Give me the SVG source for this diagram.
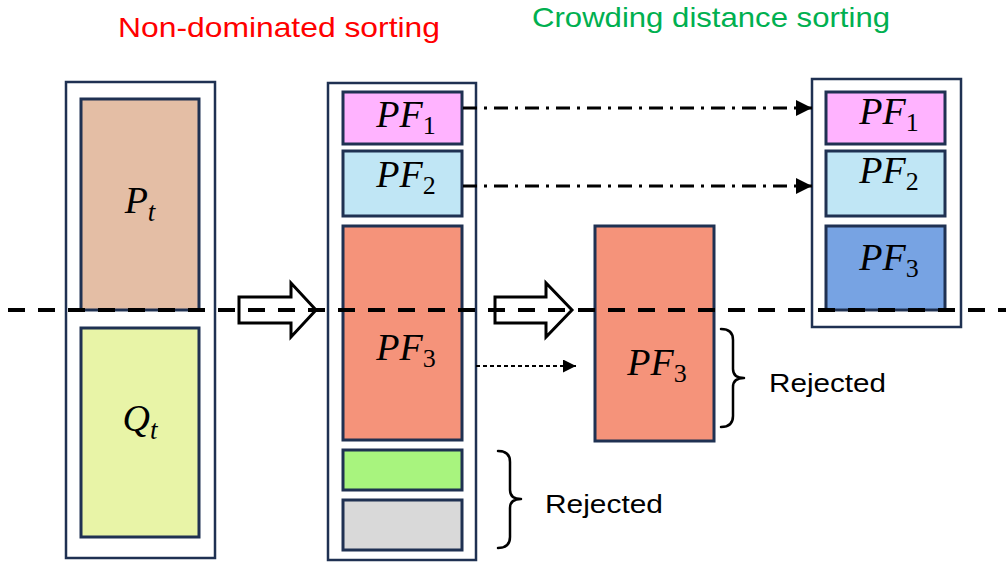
<svg xmlns="http://www.w3.org/2000/svg" width="1006" height="564" viewBox="0 0 1006 564">
  <style>
    .outer { fill: #ffffff; stroke: #1f3152; stroke-width: 2.5; }
    .inner { stroke: #1f3152; stroke-width: 3; }
    .math { font-family: "Liberation Serif", "DejaVu Serif", serif; font-style: italic; font-size: 38px; fill: #000; }
    .sub { font-style: normal; font-size: 26px; }
    .subi { font-size: 27px; }
    .label { font-family: "Liberation Sans", Arial, sans-serif; font-size: 26px; fill: #000; }
    .title { font-family: "Liberation Sans", Arial, sans-serif; font-size: 28px; }
    .brace { fill: none; stroke: #000; stroke-width: 2.5; stroke-linejoin: round; stroke-linecap: round; }
    .hollow { fill: none; stroke: #000; stroke-width: 3; stroke-linejoin: miter; }
  </style>
  <defs>
    <marker id="tri" viewBox="0 0 10 10" refX="10" refY="5" markerWidth="17" markerHeight="16" markerUnits="userSpaceOnUse" orient="auto">
      <path d="M0,0 L10,5 L0,10 Z" fill="#000"/>
    </marker>
    <marker id="triSmall" viewBox="0 0 10 10" refX="10" refY="5" markerWidth="15" markerHeight="13" markerUnits="userSpaceOnUse" orient="auto">
      <path d="M0,0 L10,5 L0,10 Z" fill="#000"/>
    </marker>
  </defs>

  <!-- titles -->
  <text class="title" x="118" y="37" fill="#ff0000" textLength="322" lengthAdjust="spacingAndGlyphs">Non-dominated sorting</text>
  <text class="title" x="532" y="27" fill="#00b050" textLength="358" lengthAdjust="spacingAndGlyphs">Crowding distance sorting</text>

  <!-- combined population R_t = P_t + Q_t -->
  <g id="population">
    <rect class="outer" x="66" y="82" width="149" height="476"/>
    <g id="Pt">
      <rect class="inner" x="81" y="99" width="118" height="211" fill="#e4bea5"/>
      <text class="math" x="140" y="213" text-anchor="middle">P<tspan class="subi" dy="8">t</tspan></text>
    </g>
    <g id="Qt">
      <rect class="inner" x="81" y="328" width="118" height="209" fill="#e8f4a7"/>
      <text class="math" x="140" y="431" text-anchor="middle">Q<tspan class="subi" dy="8">t</tspan></text>
    </g>
  </g>

  <!-- fronts after non-dominated sorting -->
  <g id="fronts">
    <rect class="outer" x="328" y="83" width="148" height="477"/>
    <g id="front1">
      <rect class="inner" x="343" y="92" width="119" height="52" fill="#ffb3ff"/>
      <text class="math" x="406" y="127" text-anchor="middle">PF<tspan class="sub" dy="7">1</tspan></text>
    </g>
    <g id="front2">
      <rect class="inner" x="343" y="151" width="119" height="65" fill="#c0e6f5"/>
      <text class="math" x="406" y="187" text-anchor="middle">PF<tspan class="sub" dy="7">2</tspan></text>
    </g>
    <g id="front3">
      <rect class="inner" x="343" y="226" width="119" height="214" fill="#f5937a"/>
      <text class="math" x="406" y="360" text-anchor="middle">PF<tspan class="sub" dy="7">3</tspan></text>
    </g>
    <g id="front4">
      <rect class="inner" x="343" y="450" width="119" height="40" fill="#a8f47e"/>
    </g>
    <g id="front5">
      <rect class="inner" x="343" y="500" width="119" height="50" fill="#d9d9d9"/>
    </g>
  </g>

  <!-- last front being truncated by crowding distance -->
  <g id="front3-split">
    <rect class="inner" x="595" y="226" width="119" height="215" fill="#f5937a"/>
    <text class="math" x="657" y="375" text-anchor="middle">PF<tspan class="sub" dy="7">3</tspan></text>
  </g>

  <!-- next population P_{t+1} -->
  <g id="next-population">
    <rect class="outer" x="812" y="79" width="149" height="248"/>
    <g id="next-front1">
      <rect class="inner" x="826" y="92" width="119" height="52" fill="#ffb3ff"/>
      <text class="math" x="889" y="124" text-anchor="middle">PF<tspan class="sub" dy="7">1</tspan></text>
    </g>
    <g id="next-front2">
      <rect class="inner" x="826" y="151" width="119" height="65" fill="#c0e6f5"/>
      <text class="math" x="889" y="183" text-anchor="middle">PF<tspan class="sub" dy="7">2</tspan></text>
    </g>
    <g id="next-front3">
      <rect class="inner" x="826" y="226" width="119" height="84" fill="#77a3e3"/>
      <text class="math" x="889" y="270" text-anchor="middle">PF<tspan class="sub" dy="7">3</tspan></text>
    </g>
  </g>

  <!-- rejected sets -->
  <g id="rejected-lower">
    <path class="brace" d="M498,451 Q510,451 510,462 L510,490 Q510,499 521,499 Q510,499 510,508 L510,537 Q510,548 498,548"/>
    <text class="label" x="545" y="513" textLength="118" lengthAdjust="spacingAndGlyphs">Rejected</text>
  </g>
  <g id="rejected-upper">
    <path class="brace" d="M721,329 Q733,329 733,340 L733,369 Q733,378 744,378 Q733,378 733,387 L733,416 Q733,427 721,427"/>
    <text class="label" x="769" y="392" textLength="117" lengthAdjust="spacingAndGlyphs">Rejected</text>
  </g>

  <!-- connectors -->
  <g id="connectors">
    <path class="hollow" d="M239,297 L291,297 L291,283 L316,310 L291,337 L291,323 L239,323 Z"/>
    <path class="hollow" d="M495,297 L546,297 L546,283 L572,310 L546,337 L546,323 L495,323 Z"/>
    <line x1="463" y1="108" x2="812" y2="108" stroke="#000" stroke-width="3" stroke-dasharray="14 7 3 7" marker-end="url(#tri)"/>
    <line x1="463" y1="186" x2="812" y2="186" stroke="#000" stroke-width="3" stroke-dasharray="14 7 3 7" marker-end="url(#tri)"/>
    <line x1="476" y1="366" x2="576" y2="366" stroke="#000" stroke-width="1.8" stroke-dasharray="4 3" marker-end="url(#triSmall)"/>
    <!-- population size cut-off -->
    <line x1="8" y1="310" x2="1006" y2="310" stroke="#000" stroke-width="4" stroke-dasharray="17 13"/>
  </g>
</svg>
